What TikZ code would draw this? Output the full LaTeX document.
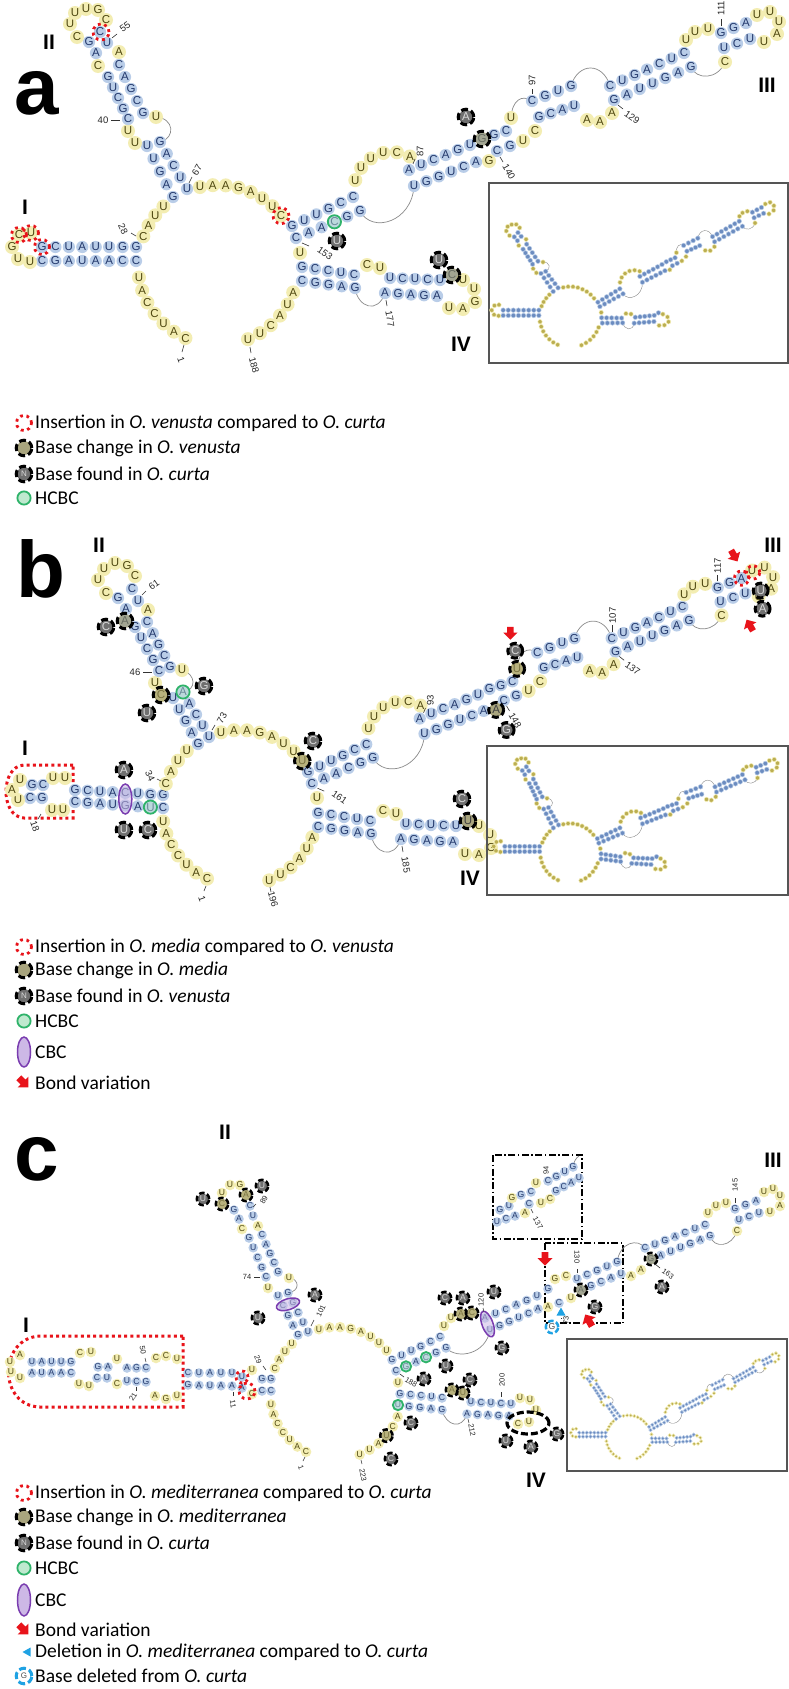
\documentclass[tikz,border=0pt]{standalone}
\usepackage{fontspec}
\setmainfont{Carlito}
\newfontfamily\sansA{Liberation Sans}
\usetikzlibrary{calc}
\definecolor{pfill}{HTML}{B9CDE8}
\definecolor{ptext}{HTML}{23386B}
\definecolor{ufill}{HTML}{F3EDB2}
\definecolor{utext}{HTML}{4E4710}
\definecolor{bbgray}{HTML}{8A8A8A}
\definecolor{hgreen}{HTML}{2FB36A}
\definecolor{hgfill}{HTML}{BFE9CF}
\definecolor{cpurple}{HTML}{7A3DB0}
\definecolor{cpfill}{HTML}{CDB8E6}
\definecolor{ired}{HTML}{E8141B}
\definecolor{dcyan}{HTML}{1FA2E3}
\definecolor{chfill}{HTML}{948E5E}
\definecolor{fdfill}{HTML}{707070}
\definecolor{minib}{HTML}{6C8CC0}
\definecolor{miniy}{HTML}{BBAE52}
\definecolor{boxgray}{HTML}{555555}
\newcount\bcnt
\newcommand\ltr[1]{#1}
\def\pdiam{12.2pt}\def\udiam{14pt}\def\bfsz{11.5}
\def\mrad{7.8pt}\def\mdiam{14pt}\def\mfr{7pt}\def\mlw{3pt}\def\mdon{7pt}\def\mdoff{3.2pt}\def\hdiam{13.5pt}\def\hrad{6.6pt}
\tikzset{
 ntp/.style={circle,fill=pfill,inner sep=0pt,minimum size=\pdiam,text=ptext,font=\sansA\fontsize{\bfsz}{\bfsz}\selectfont},
 ntu/.style={circle,fill=ufill,inner sep=0pt,minimum size=\udiam,text=utext,font=\sansA\fontsize{\bfsz}{\bfsz}\selectfont},
 bb/.style={draw=bbgray,line width=0.7pt},
 tk/.style={draw=black!80,line width=0.6pt},
 numl/.style={font=\sansA\fontsize{9.5}{9.5}\selectfont,inner sep=0pt,text=black!85},
 romanlbl/.style={font=\sansA\bfseries\fontsize{21}{21}\selectfont,inner sep=0pt},
 panellbl/.style={font=\sansA\bfseries\fontsize{80}{80}\selectfont,inner sep=0pt},
 leg/.style={font=\fontsize{19.5}{19.5}\selectfont,anchor=west,inner sep=0pt},
 ddot/.style={draw=black,line width=1.5pt,dash pattern=on 7pt off 2.5pt on 1.5pt off 2.5pt},
}
% ---------- placement macros ----------
\newcommand\Lseq[4]{%
  \foreach \lt [count=\n] in {#4}{\xdef\seqn{\n}}%
  \foreach \lt [count=\i] in {#4}{%
    \pgfmathsetmacro\tpos{\seqn>1 ? (\i-1)/(\seqn-1) : 0}%
    \global\advance\bcnt by 1
    \node[#1] (b\the\bcnt) at ($#2!\tpos!#3$) {\ltr{\lt}};}}
\newcommand\Aseq[7]{%
  \foreach \lt [count=\n] in {#7}{\xdef\seqn{\n}}%
  \foreach \lt [count=\i] in {#7}{%
    \pgfmathsetmacro\angv{\seqn>1 ? (#5)+(\i-1)*((#6)-(#5))/(\seqn-1) : (#5)}%
    \global\advance\bcnt by 1
    \node[#1] (b\the\bcnt) at ({#2+#4*cos(\angv)},{#3-#4*sin(\angv)}) {\ltr{\lt}};}}
\newcommand\Bnt[4]{\global\advance\bcnt by 1 \node[#1] (b\the\bcnt) at (#2,#3) {\ltr{#4}};}
\newcommand\Bnts[2]{\foreach \x/\y/\lt in {#2}{\Bnt{#1}{\x}{\y}{\lt}}}
\newcommand\NL[8]{\global\advance\bcnt by 1 \node[numl,rotate=#3] (n\the\bcnt) at (#1,#2) {#4}; \draw[tk] (#5,#6) -- (#7,#8);}
% ---------- marker macros ----------
\newcommand\Mchg[2]{\fill[chfill,fill opacity=0.62] (#1,#2) circle (\mfr);
 \draw[black,line width=\mlw,dash pattern=on \mdon off \mdoff] (#1,#2) circle (\mrad);}
\newcommand\MchgL[3]{\global\advance\bcnt by 1
 \node[circle,fill=chfill!80!white,inner sep=0pt,minimum size=\mdiam,text=black!75,font=\sansA\fontsize{\bfsz}{\bfsz}\selectfont] (m\the\bcnt) at (#1,#2) {#3};
 \draw[black,line width=\mlw,dash pattern=on \mdon off \mdoff] (#1,#2) circle (\mrad);}
\newcommand\Mfnd[3]{\global\advance\bcnt by 1
 \node[circle,fill=fdfill,inner sep=0pt,minimum size=\mdiam,text=white!85!black,font=\sansA\fontsize{\bfsz}{\bfsz}\selectfont] (m\the\bcnt) at (#1,#2) {#3};
 \draw[black,line width=\mlw,dash pattern=on \mdon off \mdoff] (#1,#2) circle (\mrad);}
\newcommand\Mhcbc[2]{\draw[hgreen,line width=1.8pt,fill=hgfill,fill opacity=0.45] (#1,#2) circle (\hrad);}
\newcommand\MhcbcL[2]{\draw[hgreen,line width=1.8pt,fill=hgfill] (#1,#2) circle (\hrad);}
\newcommand\Mins[3]{\draw[ired,line width=2.8pt,dash pattern=on 2.8pt off 3.6pt] (#1,#2) circle (#3pt);}
\newcommand\Mcbc[5]{\draw[cpurple,line width=1.5pt,fill=cpfill,fill opacity=0.55,rotate around={#5:(#1,#2)}] (#1,#2) ellipse [x radius=#3pt, y radius=#4pt];}
\newcommand\Mbond[3]{\fill[ired,shift={(#1,#2)},rotate=#3] (-6,-3.4) -- (0,-3.4) -- (0,-7.5) -- (7.5,0) -- (0,7.5) -- (0,3.4) -- (-6,3.4) -- cycle;}
\newcommand\Mtri[3]{\fill[dcyan,shift={(#1,#2)},rotate=#3] (-4.5,0) -- (3.5,-4.5) -- (3.5,4.5) -- cycle;}
\newcommand\Mdel[3]{\global\advance\bcnt by 1
 \node[circle,fill=white,inner sep=0pt,minimum size=\mdiam,text=black!70,font=\sansA\fontsize{\bfsz}{\bfsz}\selectfont] (m\the\bcnt) at (#1,#2) {#3};
 \draw[dcyan,line width=\mlw,dash pattern=on \mdon off \mdoff] (#1,#2) circle (\mrad);}
\newcommand\minimode[2]{\renewcommand\ltr[1]{}\tikzset{
 ntp/.style={circle,fill=minib,draw=pfill,line width=0.5pt,inner sep=0pt,minimum size=#1},
 ntu/.style={circle,fill=miniy,draw=ufill,line width=0.5pt,inner sep=0pt,minimum size=#2},
 bb/.style={draw=bbgray,line width=0.4pt}}}
% ---------- panel a structure ----------
\newcommand\MLA{%
 \Aseq{ntu}{218}{265}{80}{246}{189}{C,A,U,C,C,A,U}
 \Lseq{ntp}{(136,261)}{(42,261)}{C,C,A,A,U,A,G,C}
 \Bnts{ntu}{30/262/U,18/259/U,12/247/G,19/235/C,31/233/U}
 \Lseq{ntp}{(42,247)}{(136,247)}{G,C,U,A,U,U,G,G}
 \Aseq{ntu}{218}{265}{80}{159}{133}{C,A,U,U}
 \Aseq{ntu}{218}{265}{80}{103}{38}{U,A,A,G,A,U,U,C}
 \Bnt{ntu}{300}{253}{U}
 \Aseq{ntu}{218}{265}{80}{-20}{-68}{A,U,A,C,U,U}}
\newcommand\StemIIa{%
 \draw[bb] (156,117) .. controls (174,118) and (176,138) .. (160,142);
 \Lseq{ntp}{(173,197)}{(147,146)}{G,A,G,U,U}
 \Bnts{ntu}{135/143/U,128/131/U}
 \Lseq{ntp}{(128,119)}{(108,77)}{C,G,C,U,G}
 \Bnt{ntu}{98}{66}{C}
 \Bnts{ntp}{96/53/A,89/42/G}
 \Bnts{ntu}{77/37/C,70/24/U,75/13/U,86/9/U,98/10/G,106/20/C}
 \Bnts{ntp}{100/32/C,107/43/U}
 \Bnt{ntu}{119}{52}{A}
 \Lseq{ntp}{(119,65)}{(143,113)}{C,A,G,C,G}
 \Bnt{ntu}{156}{117}{U}
 \Lseq{ntp}{(160,142)}{(187,189)}{G,A,C,U,U}}
\newcommand\StemIIIa{%
 \draw[bb] (360,211) .. controls (372,234) and (412,222) .. (414,186);
 \draw[bb] (511,118) .. controls (512,100) and (522,94) .. (532,101);
 \draw[bb] (571,86) .. controls (578,62) and (603,62) .. (610,86);
 \draw[bb] (725,62) .. controls (718,80) and (696,80) .. (691,67);
 \Lseq{ntp}{(292,226)}{(353,197)}{G,U,U,G,C,C}
 \Aseq{ntu}{392}{190}{38}{165}{62}{U,U,U,U,C,A}
 \Lseq{ntp}{(409,170)}{(470,145)}{A,U,C,A,G,U}
 \Lseq{ntp}{(482,139)}{(506,131)}{G,G,C}
 \Bnt{ntu}{511}{118}{U}
 \Lseq{ntp}{(532,101)}{(571,86)}{C,G,U,G}
 \Lseq{ntp}{(610,86)}{(684,53)}{C,U,G,A,C,U,C}
 \Bnts{ntu}{686/40/U,695/32/U,708/29/U}
 \Lseq{ntp}{(721,33)}{(746,23)}{G,G,A}
 \Bnts{ntu}{757/15/U,770/12/U,779/22/U,777/34/A,764/42/U}
 \Lseq{ntp}{(750,39)}{(724,48)}{U,C,U}
 \Bnt{ntu}{725}{62}{C}
 \Lseq{ntp}{(691,67)}{(614,100)}{G,A,G,U,U,A,G}
 \Bnts{ntu}{612/113/A,600/122/A,587/120/A}
 \Lseq{ntp}{(574,106)}{(539,117)}{U,A,C,G}
 \Bnts{ntu}{535/131/C,523/141/U}
 \Lseq{ntp}{(510,146)}{(497,151)}{G,C}
 \Bnt{ntu}{489}{161}{G}
 \Lseq{ntp}{(476,162)}{(414,186)}{A,C,U,G,G,U}
 \Lseq{ntp}{(360,211)}{(296,238)}{G,G,C,A,A,C}}
\newcommand\StemIVa{%
 \draw[bb] (385,293) .. controls (378,314) and (358,308) .. (355,288);
 \Lseq{ntp}{(302,267)}{(354,275)}{G,C,C,U,C}
 \Bnts{ntu}{367/265/C,380/268/U}
 \Lseq{ntp}{(390,278)}{(440,280)}{U,C,U,C,U}
 \Bnt{ntp}{452}{275}{C}
 \Bnts{ntu}{463/280/U,474/289/U,475/302/G,463/309/A,449/308/U}
 \Lseq{ntp}{(437,296)}{(385,293)}{A,G,A,G,A}
 \Lseq{ntp}{(355,288)}{(302,281)}{G,A,G,G,C}}
\newcommand\CoreA{\MLA\StemIIa}
% O. curta miniature (insets a and c)
\newcommand\Curta{\MLA
 \begin{scope}[rotate around={7:(180,193)}]\StemIIa\end{scope}
 \begin{scope}[rotate around={6:(292,232)}]\StemIIIa\end{scope}
 \begin{scope}[rotate around={8:(302,274)}]\StemIVa\end{scope}}
% ---------- panel b structure ----------
\newcommand\StructB{%
 \draw[bb] (182,670) .. controls (196,674) and (197,690) .. (183,692);
 \Aseq{ntu}{240}{808}{78}{245}{190}{C,A,U,C,C,A,U}
 \Lseq{ntp}{(163,808)}{(75,802)}{C,U,A,G,U,A,G,C}
 \Bnts{ntu}{63/810/U,52/810/U}
 \Bnts{ntp}{42/798/G,30/798/C}
 \Bnts{ntu}{18/800/U,12/790/A,20/780/U}
 \Bnts{ntp}{32/785/G,43/785/C}
 \Bnts{ntu}{53/778/U,65/778/U}
 \Lseq{ntp}{(75,790)}{(163,795)}{G,C,U,A,C,U,G,G}
 \Aseq{ntu}{240}{808}{78}{162}{133}{C,A,U,U}
 \Lseq{ntp}{(198,744)}{(173,698)}{G,A,G,U,U}
 \Bnt{ntu}{161}{695}{C}
 \Bnt{ntu}{155}{683}{U}
 \Lseq{ntp}{(159,671)}{(135,627)}{C,G,C,U,G}
 \Bnt{ntp}{125}{621}{A}
 \Bnts{ntp}{126/609/A,118/598/G}
 \Bnts{ntu}{106/593/C,98/580/U,104/569/U,115/563/U,127/566/G,135/576/C}
 \Bnts{ntp}{132/589/C,138/601/U}
 \Bnt{ntu}{148}{610}{A}
 \Lseq{ntp}{(147,622)}{(170,667)}{C,A,G,C,G}
 \Bnt{ntu}{182}{670}{U}
 \Lseq{ntp}{(183,692)}{(209,737)}{A,A,C,U,U}
 \Aseq{ntu}{240}{808}{78}{104}{37}{U,A,A,G,A,U,U,U}
 \Bnt{ntu}{317}{798}{U}
 \Aseq{ntu}{240}{808}{78}{-22}{-68}{A,U,A,C,U,U}
 \begin{scope}[shift={(308,772)},scale=0.955,shift={(-292,-226)}]\StemIIIa\end{scope}
 \begin{scope}[shift={(16,546)}]\StemIVa\end{scope}}
% ---------- panel c structure ----------
\newcommand\StructC{%
 \draw[bb] (289,1277) .. controls (300,1280) and (300,1291) .. (288,1293);
 \draw[bb] (490,1330) .. controls (486,1354) and (458,1360) .. (446,1348);
 \draw[bb] (617,1262) .. controls (620,1242) and (638,1238) .. (645,1248);
 \draw[bb] (737,1231) .. controls (732,1247) and (714,1249) .. (710,1236);
 \draw[bb] (467,1414) .. controls (462,1430) and (446,1426) .. (442,1410);
 \Aseq{ntu}{336}{1393}{66}{243}{190}{C,A,U,C,C,A,U}
 \Lseq{ntp}{(271,1391)}{(262,1391)}{C,C}
 \Bnt{ntu}{252}{1394}{C}
 \Bnt{ntp}{242}{1388}{A}
 \Lseq{ntp}{(232,1386)}{(188,1385)}{A,A,U,A,G}
 \Bnts{ntu}{177/1396/U,166/1399/G,155/1396/A}
 \Lseq{ntp}{(146,1382)}{(127,1381)}{G,C,U}
 \Bnt{ntu}{117}{1384}{C}
 \Lseq{ntp}{(107,1378)}{(97,1378)}{U,C}
 \Bnts{ntu}{89/1386/U,79/1384/U}
 \Lseq{ntp}{(71,1373)}{(32,1373)}{C,A,A,U,A}
 \Bnts{ntu}{20/1378/U,11/1372/U,10/1362/U,20/1355/A}
 \Lseq{ntp}{(32,1362)}{(71,1362)}{U,A,U,U,G}
 \Bnts{ntu}{80/1353/C,91/1352/U}
 \Lseq{ntp}{(98,1367)}{(108,1367)}{G,A}
 \Bnt{ntu}{117}{1359}{U}
 \Lseq{ntp}{(127,1368)}{(146,1368)}{A,G,C}
 \Bnts{ntu}{156/1358/C,166/1356/C,177/1359/U}
 \Lseq{ntp}{(188,1373)}{(232,1373)}{C,U,A,U,U}
 \Bnt{ntp}{242}{1377}{U}
 \Bnt{ntu}{252}{1370}{U}
 \Lseq{ntp}{(262,1379)}{(271,1379)}{G,G}
 \Aseq{ntu}{336}{1393}{66}{158}{132}{C,A,U,U}
 \Lseq{ntp}{(298,1335)}{(278,1296)}{G,A,G,C,U}
 \Bnt{ntu}{268}{1288}{U}
 \Lseq{ntp}{(266,1277)}{(249,1238)}{C,G,C,U,G}
 \Bnt{ntu}{242}{1229}{C}
 \Bnts{ntp}{239/1219/A,234/1210/G}
 \Bnts{ntu}{222/1204/C,222/1193/U,230/1185/U,240/1185/G,246/1195/A}
 \Bnts{ntp}{250/1206/C,253/1216/U}
 \Bnt{ntu}{258}{1226}{A}
 \Lseq{ntp}{(262,1235)}{(278,1272)}{C,A,G,C,G}
 \Bnt{ntu}{289}{1278}{U}
 \Lseq{ntp}{(288,1293)}{(308,1332)}{G,G,C,U,U}
 \Aseq{ntu}{336}{1393}{66}{105}{40}{U,A,A,G,A,U,U,U}
 \Lseq{ntp}{(392,1360)}{(440,1337)}{G,U,U,G,C,C}
 \Bnts{ntu}{444/1326/U,451/1318/U,461/1314/A,472/1313/C}
 \Lseq{ntp}{(485,1318)}{(537,1296)}{A,U,C,A,G,U}
 \Bnt{ntp}{548}{1289}{G}
 \Bnts{ntu}{555/1279/G,566/1276/C}
 \Lseq{ntp}{(577,1279)}{(617,1262)}{U,C,G,U,G}
 \Lseq{ntp}{(645,1248)}{(705,1225)}{C,U,G,A,C,U,C}
 \Bnts{ntu}{708/1213/U,716/1206/U,726/1203/U}
 \Lseq{ntp}{(735,1209)}{(756,1201)}{G,G,A}
 \Bnts{ntu}{764/1192/U,773/1189/U,780/1196/U,780/1206/A,770/1212/U}
 \Lseq{ntp}{(759,1213)}{(739,1220)}{U,C,U}
 \Bnt{ntu}{737}{1231}{C}
 \Lseq{ntp}{(710,1236)}{(651,1259)}{G,A,G,U,U,A,G}
 \Bnts{ntu}{641/1270/A,631/1276/A}
 \Lseq{ntp}{(621,1274)}{(581,1290)}{U,A,C,G,A}
 \Bnt{ntu}{571}{1298}{U}
 \Bnt{ntp}{559}{1303}{C}
 \Bnt{ntu}{548}{1307}{A}
 \Lseq{ntp}{(538,1309)}{(490,1330)}{A,C,U,G,G,U}
 \Lseq{ntp}{(446,1348)}{(396,1371)}{G,G,C,A,G,C}
 \Bnt{ntu}{398}{1382.5}{U}
 \Lseq{ntp}{(400,1394)}{(442,1398)}{G,C,C,U,C}
 \Bnts{ntu}{452/1390/A,463/1393/U}
 \Lseq{ntp}{(471,1402)}{(511,1404)}{U,C,U,C,U}
 \Bnts{ntu}{520/1398/U,530/1400/U,536/1410/U,529/1422/U,518/1424/C}
 \Lseq{ntp}{(509,1416)}{(467,1414)}{A,G,A,G,A}
 \Lseq{ntp}{(442,1410)}{(398,1405)}{G,A,G,G,U}
 \Aseq{ntu}{336}{1393}{66}{-21}{-69}{A,C,U,A,U,U}}
\begin{document}
\begin{tikzpicture}[x=1pt,y=-1pt]
\path[use as bounding box,fill=white] (0,0) rectangle (789,1689);
% ================= PANEL A =================
\node[panellbl] (pa) at (37,93) {a};
\node[romanlbl] (a2) at (49,42) {II};
\node[romanlbl] (a1) at (25,207) {I};
\node[romanlbl] (a3) at (767,85) {III};
\node[romanlbl] (a4) at (461,344) {IV};
\CoreA
\StemIIIa
\StemIVa
\Mins{19}{235}{7.5}\Mins{31}{233}{7.5}\Mins{42}{247}{7.5}
\Mins{101}{32}{8}\Mins{281}{215.7}{8}
\Mhcbc{334.4}{221.8}
\Mfnd{337}{241}{U}\Mfnd{466}{117}{A}\Mfnd{439}{260}{U}
\Mchg{482}{139}\Mchg{452}{275}
\NL{181}{360}{-70}{1}{184}{345}{182}{352}
\NL{123}{229}{-65}{28}{131}{233}{136}{236}
\NL{103}{120}{0}{40}{111}{120}{120}{120}
\NL{125}{27}{35}{55}{112}{38}{117}{34}
\NL{197}{170}{60}{67}{189}{183}{192}{177}
\NL{420}{151}{90}{87}{413}{164}{415}{159}
\NL{532}{80}{90}{97}{532}{94}{532}{89}
\NL{721}{8}{90}{111}{721}{26}{721}{19}
\NL{632}{117}{-35}{129}{618}{105}{623}{109}
\NL{509}{172}{-60}{140}{500}{157}{503}{162}
\NL{325}{253}{-35}{153}{302}{243}{309}{246}
\NL{390}{319}{-80}{177}{386}{300}{387}{306}
\NL{254}{365}{-75}{188}{250}{347}{251}{353}
\draw[boxgray,line width=1.2pt] (489,183) rectangle (788,363);
\begin{scope}[shift={(487.2,216.3)},scale=0.38]\minimode{4.6pt}{4.4pt}\Curta\end{scope}
\Mins{24}{423}{7.5}
\node[leg] (la1) at (35,423) {Insertion in \textit{O. venusta} compared to \textit{O. curta}};
\MchgL{24}{448}{}
\node[leg] (la2) at (35,448) {Base change in \textit{O. venusta}};
{\def\bfsz{8}\Mfnd{24}{474}{N}}
\node[leg] (la3) at (35,474) {Base found in \textit{O. curta}};
\MhcbcL{24}{498}
\node[leg] (la4) at (35,498) {HCBC};
% ================= PANEL B =================
\node[panellbl] (pb) at (41,569) {b};
\node[romanlbl] (b2) at (99,545) {II};
\node[romanlbl] (b1) at (25,748) {I};
\node[romanlbl] (b3) at (773,545) {III};
\node[romanlbl] (b4) at (470,878) {IV};
\draw[ired,line width=3pt,dash pattern=on 3pt off 3.2pt] (73,765) -- (24,765) .. controls (0,766) and (0,817) .. (24,818) -- (73,818) -- cycle;
\StructB
\Mcbc{125.3}{799}{6.5}{15}{0}
\Mhcbc{150.4}{807.1}
\Mfnd{124}{770}{A}\Mfnd{124}{830}{U}\Mfnd{148}{830}{C}
\Mhcbc{183}{692}
\Mchg{161}{695}\Mchg{125}{621}
\Mfnd{147}{713}{U}\Mfnd{204}{686}{G}\Mfnd{106}{627}{C}
\Mchg{302.3}{761.1}\Mfnd{313}{741}{C}
\begin{scope}[shift={(308,772)},scale=0.955,shift={(-292,-226)}]
 \Mchg{511}{118}\Mfnd{509}{99}{C}\Mbond{504}{80}{-90}
 \MchgL{489}{161}{A}\Mfnd{500}{182}{G}
 \Mins{746}{23}{7.5}\Mins{758}{17}{7}
 \Mfnd{766}{36}{U}\Mfnd{768}{55}{A}
 \Mbond{738}{-1}{-60}\Mbond{755}{73}{120}
 \NL{420}{151}{90}{93}{413}{164}{415}{159}
 \NL{611}{62}{90}{107}{611}{79}{611}{72}
 \NL{721}{10}{90}{117}{721}{26}{721}{20}
 \NL{632}{117}{-35}{137}{618}{105}{623}{109}
 \NL{509}{172}{-60}{148}{500}{157}{503}{162}
 \NL{325}{253}{-35}{161}{302}{243}{309}{246}
\end{scope}
\begin{scope}[shift={(16,546)}]
 \MchgL{452}{275}{U}\Mfnd{446}{253}{C}
 \NL{390}{319}{-80}{185}{386}{300}{387}{306}
\end{scope}
\NL{202}{899}{-70}{1}{206}{886}{204}{891}
\NL{35}{826}{-70}{18}{38}{819}{41}{814}
\NL{150}{776}{-65}{34}{157}{779}{161}{781}
\NL{135}{672}{0}{46}{143}{672}{152}{672}
\NL{154}{585}{35}{61}{142}{595}{146}{591}
\NL{222}{718}{60}{73}{212}{730}{215}{725}
\NL{273}{899}{-75}{196}{270}{887}{271}{892}
\draw[boxgray,line width=1.2pt] (487,746) rectangle (788,895);
\begin{scope}[shift={(489.3,755)},scale=0.37]\minimode{4.6pt}{4.4pt}\CoreA\StemIIIa\StemIVa\end{scope}
\Mins{24}{947}{7.5}
\node[leg] (lb1) at (35,947) {Insertion in \textit{O. media} compared to \textit{O. venusta}};
\MchgL{24}{970}{}
\node[leg] (lb2) at (35,970) {Base change in \textit{O. media}};
{\def\bfsz{8}\Mfnd{24}{996}{N}}
\node[leg] (lb3) at (35,996) {Base found in \textit{O. venusta}};
\MhcbcL{24}{1021}
\node[leg] (lb4) at (35,1021) {HCBC};
\draw[cpurple,line width=1.5pt,fill=cpfill] (24,1052) ellipse [x radius=6.5pt, y radius=15pt];
\node[leg] (lb5) at (35,1052) {CBC};
\Mbond{23}{1082}{-45}
\node[leg] (lb6) at (35,1083) {Bond variation};
% ================= PANEL C =================
\node[panellbl] (pc) at (37,1159) {c};
\node[romanlbl] (c2) at (225,1132) {II};
\node[romanlbl] (c1) at (26,1325) {I};
\node[romanlbl] (c3) at (773,1160) {III};
\node[romanlbl] (c4) at (536,1480) {IV};
\begin{scope}
\def\pdiam{9.6pt}\def\udiam{10.6pt}\def\bfsz{8.6}
\def\mrad{6.2pt}\def\mdiam{11pt}\def\mfr{5.5pt}\def\mlw{2.5pt}\def\mdon{5.5pt}\def\mdoff{2.6pt}\def\hdiam{10.5pt}\def\hrad{5.2pt}
\tikzset{numl/.style={font=\sansA\fontsize{7.5}{7.5}\selectfont,inner sep=0pt,text=black!85}}
\draw[ired,line width=3pt,dash pattern=on 3pt off 3.2pt] (183,1336) -- (40,1336) .. controls (-2,1338) and (-2,1406) .. (40,1407) -- (183,1407) -- cycle;
\draw[ddot] (493,1155) rectangle (582,1239);
\draw[ddot] (545,1243) rectangle (623,1323);
\StructC
% inner box detail
\draw[bb] (573,1167) .. controls (574,1161) and (576,1158) .. (579,1156);
\Lseq{ntp}{(497,1222)}{(515,1216)}{U,C,A}
\Bnt{ntu}{525}{1213}{A}
\Lseq{ntp}{(500,1210)}{(509,1206)}{G,U}
\Bnt{ntu}{512}{1198}{G}
\Lseq{ntp}{(521,1195)}{(531,1192)}{G,C}
\Bnt{ntp}{529}{1204}{C}
\Bnts{ntu}{541/1203/U,550/1199/C,536/1183/U}
\Lseq{ntp}{(548,1181)}{(573,1167)}{C,G,U,G}
\Lseq{ntp}{(579,1178)}{(556,1191)}{U,A,C,G}
\Mins{242}{1377}{6}\Mins{247}{1391}{8}
\Mcbc{288}{1304.3}{12}{5.5}{17}
\Mcbc{487.5}{1324}{5.5}{13.5}{20}
\Mhcbc{426}{1357.2}\Mhcbc{406}{1366.4}\Mhcbc{398}{1405}
\Mchg{222}{1204}\Mchg{246}{1195}
\Mchg{461}{1314}\Mchg{472}{1313}
\Mchg{452}{1390}\Mchg{463}{1393}
\Mchg{581}{1290}\Mchg{651}{1259}\Mchg{386.4}{1435.6}
\Mfnd{203}{1199}{U}\Mfnd{262}{1186}{U}\Mfnd{315}{1295}{A}\Mfnd{258}{1318}{U}
\Mfnd{445}{1298}{C}\Mfnd{463}{1298}{A}\Mfnd{494}{1292}{U}\Mfnd{502}{1348}{G}
\Mfnd{446}{1366}{U}\Mfnd{424}{1379}{A}\Mfnd{470}{1380}{C}\Mfnd{411}{1423}{C}
\Mfnd{391}{1459}{C}\Mfnd{506}{1441}{U}\Mfnd{531}{1447}{A}\Mfnd{557}{1434}{G}
\Mfnd{595}{1307}{G}\Mfnd{662}{1287}{A}
\Mbond{545}{1258}{-90}\Mbond{589}{1321}{120}
\Mtri{561}{1312}{-90}
\Mdel{552}{1327}{G}
\draw[black,line width=3.2pt,dash pattern=on 7pt off 3pt] (528,1423) ellipse [x radius=21pt, y radius=11pt];
\NL{301}{1468}{-70}{1}{305}{1457}{303}{1461}
\NL{233}{1404}{-80}{11}{233}{1392}{233}{1396}
\NL{133}{1397}{60}{21}{136}{1387}{136}{1391}
\NL{258}{1360}{-70}{29}{263}{1366}{266}{1370}
\NL{143}{1350}{-80}{50}{145}{1358}{146}{1362}
\NL{247}{1277}{0}{74}{254}{1277}{260}{1277}
\NL{264}{1200}{60}{89}{253}{1207}{256}{1204}
\NL{321}{1311}{65}{101}{311}{1326}{314}{1320}
\NL{481}{1300}{90}{120}{484}{1312}{483}{1308}
\NL{577}{1257}{-90}{130}{577}{1273}{577}{1269}
\NL{735}{1185}{90}{145}{735}{1203}{735}{1198}
\NL{668}{1274}{-35}{163}{655}{1264}{660}{1268}
\NL{411}{1382}{-30}{188}{400}{1374}{404}{1377}
\NL{502}{1380}{90}{200}{501}{1397}{501}{1392}
\NL{472}{1430}{-80}{212}{468}{1419}{469}{1423}
\NL{363}{1475}{-80}{223}{361}{1460}{362}{1464}
\NL{566}{1320}{90}{73}{561}{1318}{562}{1318}
\NL{546}{1170}{90}{94}{548}{1177}{548}{1177}
\NL{538}{1223}{-60}{137}{531}{1209}{533}{1213}
\end{scope}
\draw[boxgray,line width=1.2pt] (567,1339) rectangle (787,1471);
\begin{scope}[shift={(567.5,1363.5)},scale=0.28]\minimode{3.6pt}{3.4pt}\Curta\end{scope}
\Mins{24}{1493}{7.5}
\node[leg] (lc1) at (35,1493) {Insertion in \textit{O. mediterranea} compared to \textit{O. curta}};
\MchgL{24}{1517}{}
\node[leg] (lc2) at (35,1517) {Base change in \textit{O. mediterranea}};
{\def\bfsz{8}\Mfnd{24}{1543}{N}}
\node[leg] (lc3) at (35,1543) {Base found in \textit{O. curta}};
\MhcbcL{24}{1568}
\node[leg] (lc4) at (35,1568) {HCBC};
\draw[cpurple,line width=1.5pt,fill=cpfill] (24,1600) ellipse [x radius=6.5pt, y radius=16pt];
\node[leg] (lc5) at (35,1600) {CBC};
\Mbond{23}{1629}{-45}
\node[leg] (lc6) at (35,1630) {Bond variation};
\Mtri{27}{1652}{0}
\node[leg] (lc7) at (35,1652) {Deletion in \textit{O. mediterranea} compared to \textit{O. curta}};
{\def\bfsz{8}\Mdel{24}{1676}{G}}
\node[leg] (lc8) at (35,1676) {Base deleted from \textit{O. curta}};
\end{tikzpicture}
\end{document}
